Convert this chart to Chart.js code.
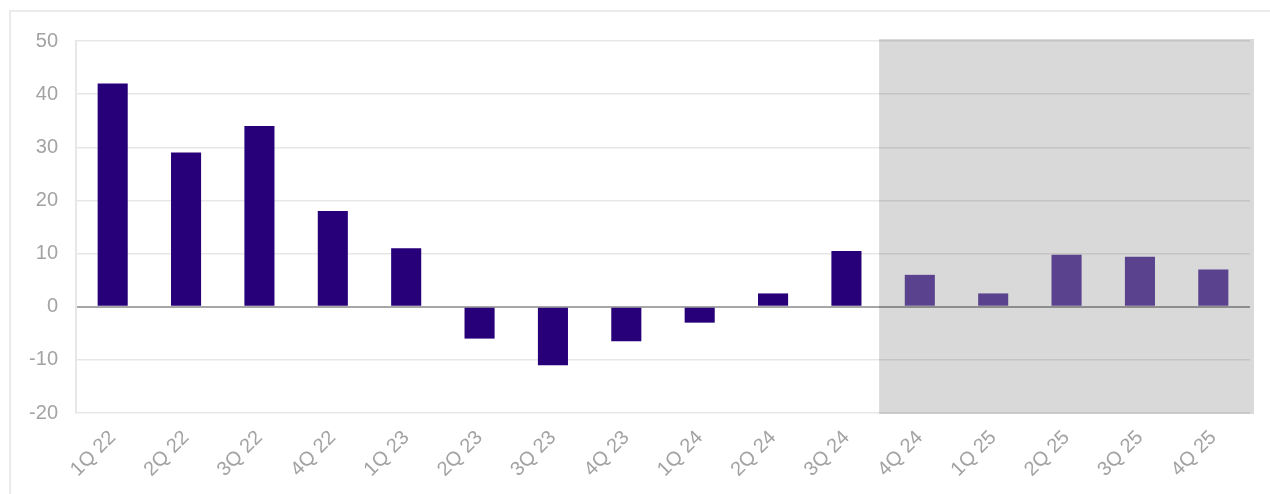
<!DOCTYPE html>
<html>
<head>
<meta charset="utf-8">
<script src="https://cdn.jsdelivr.net/npm/chart.js@4"></script>
<style>
    html, body { margin: 0; padding: 0; background: #fff; }
    #frame {
        position: absolute; left: 9px; top: 10px;
        width: 1400px; height: 600px;
        border-top: 2px solid #ebebeb; border-left: 2px solid #ebebeb;
    }
    #wrap { position: absolute; left: 0; top: 0; width: 1270px; height: 494px; }
</style>
</head>
<body>
<div id="frame"></div>
<div id="wrap"><canvas id="quarterChart"></canvas></div>
<script>
// Trimestres et valeurs
const quarters = ['1Q 22', '2Q 22', '3Q 22', '4Q 22', '1Q 23', '2Q 23', '3Q 23', '4Q 23',
                  '1Q 24', '2Q 24', '3Q 24', '4Q 24', '1Q 25', '2Q 25', '3Q 25', '4Q 25'];
const values = [42, 29, 34, 18, 11, -6, -11, -6.5, -3, 2.5, 10.5, 6, 2.5, 9.8, 9.4, 7];
const firstForecast = 11; // à partir de 4Q 24 : zone grisée
const yTicks = [-20, -10, 0, 10, 20, 30, 40, 50];

const actualColor = '#270079';
const forecastColor = '#5a428e';

// Zone grisée derrière les trimestres prévisionnels
const shadePlugin = {
    id: 'shade',
    beforeDraw(chart) {
        const { ctx, chartArea, scales } = chart;
        const left = scales.x.getPixelForValue(firstForecast - 0.5) - 4;
        ctx.save();
        ctx.fillStyle = '#d9d9d9';
        ctx.fillRect(left, chartArea.top - 2, chartArea.right + 4 - left, chartArea.bottom - chartArea.top + 3);
        ctx.restore();
    }
};

const ctx = document.getElementById('quarterChart').getContext('2d');
new Chart(ctx, {
    type: 'bar',
    data: {
        labels: quarters,
        datasets: [{
            data: values,
            backgroundColor: values.map((v, i) => i >= firstForecast ? forecastColor : actualColor),
            borderWidth: 0,
            categoryPercentage: 1,
            barPercentage: 0.41
        }]
    },
    options: {
        responsive: true,
        maintainAspectRatio: false,
        animation: false,
        layout: { padding: { left: 0, top: 41, right: 20, bottom: 0 } },
        plugins: {
            legend: { display: false },
            tooltip: { enabled: false }
        },
        scales: {
            x: {
                grid: { display: false, drawTicks: false },
                border: { display: false },
                ticks: {
                    color: '#a3a3a3',
                    font: { family: 'Liberation Sans', size: 20 },
                    minRotation: 45,
                    maxRotation: 45,
                    padding: 13,
                    autoSkip: false
                },
                afterFit(scale) { scale.height = 81; }
            },
            y: {
                min: -20,
                max: 50,
                afterBuildTicks(scale) { scale.ticks = yTicks.map(v => ({ value: v })); },
                grid: {
                    drawTicks: false,
                    color: c => c.tick && c.tick.value === 0 ? 'rgba(0,0,0,0.35)' : 'rgba(0,0,0,0.095)',
                    lineWidth: c => c.tick && c.tick.value === 0 ? 2 : 1.5
                },
                border: { color: 'rgba(0,0,0,0.095)', width: 2 },
                ticks: {
                    color: '#a3a3a3',
                    font: { family: 'Liberation Sans', size: 20 },
                    padding: 18
                },
                afterFit(scale) { scale.width = 76; }
            }
        }
    },
    plugins: [shadePlugin]
});
</script>
</body>
</html>
